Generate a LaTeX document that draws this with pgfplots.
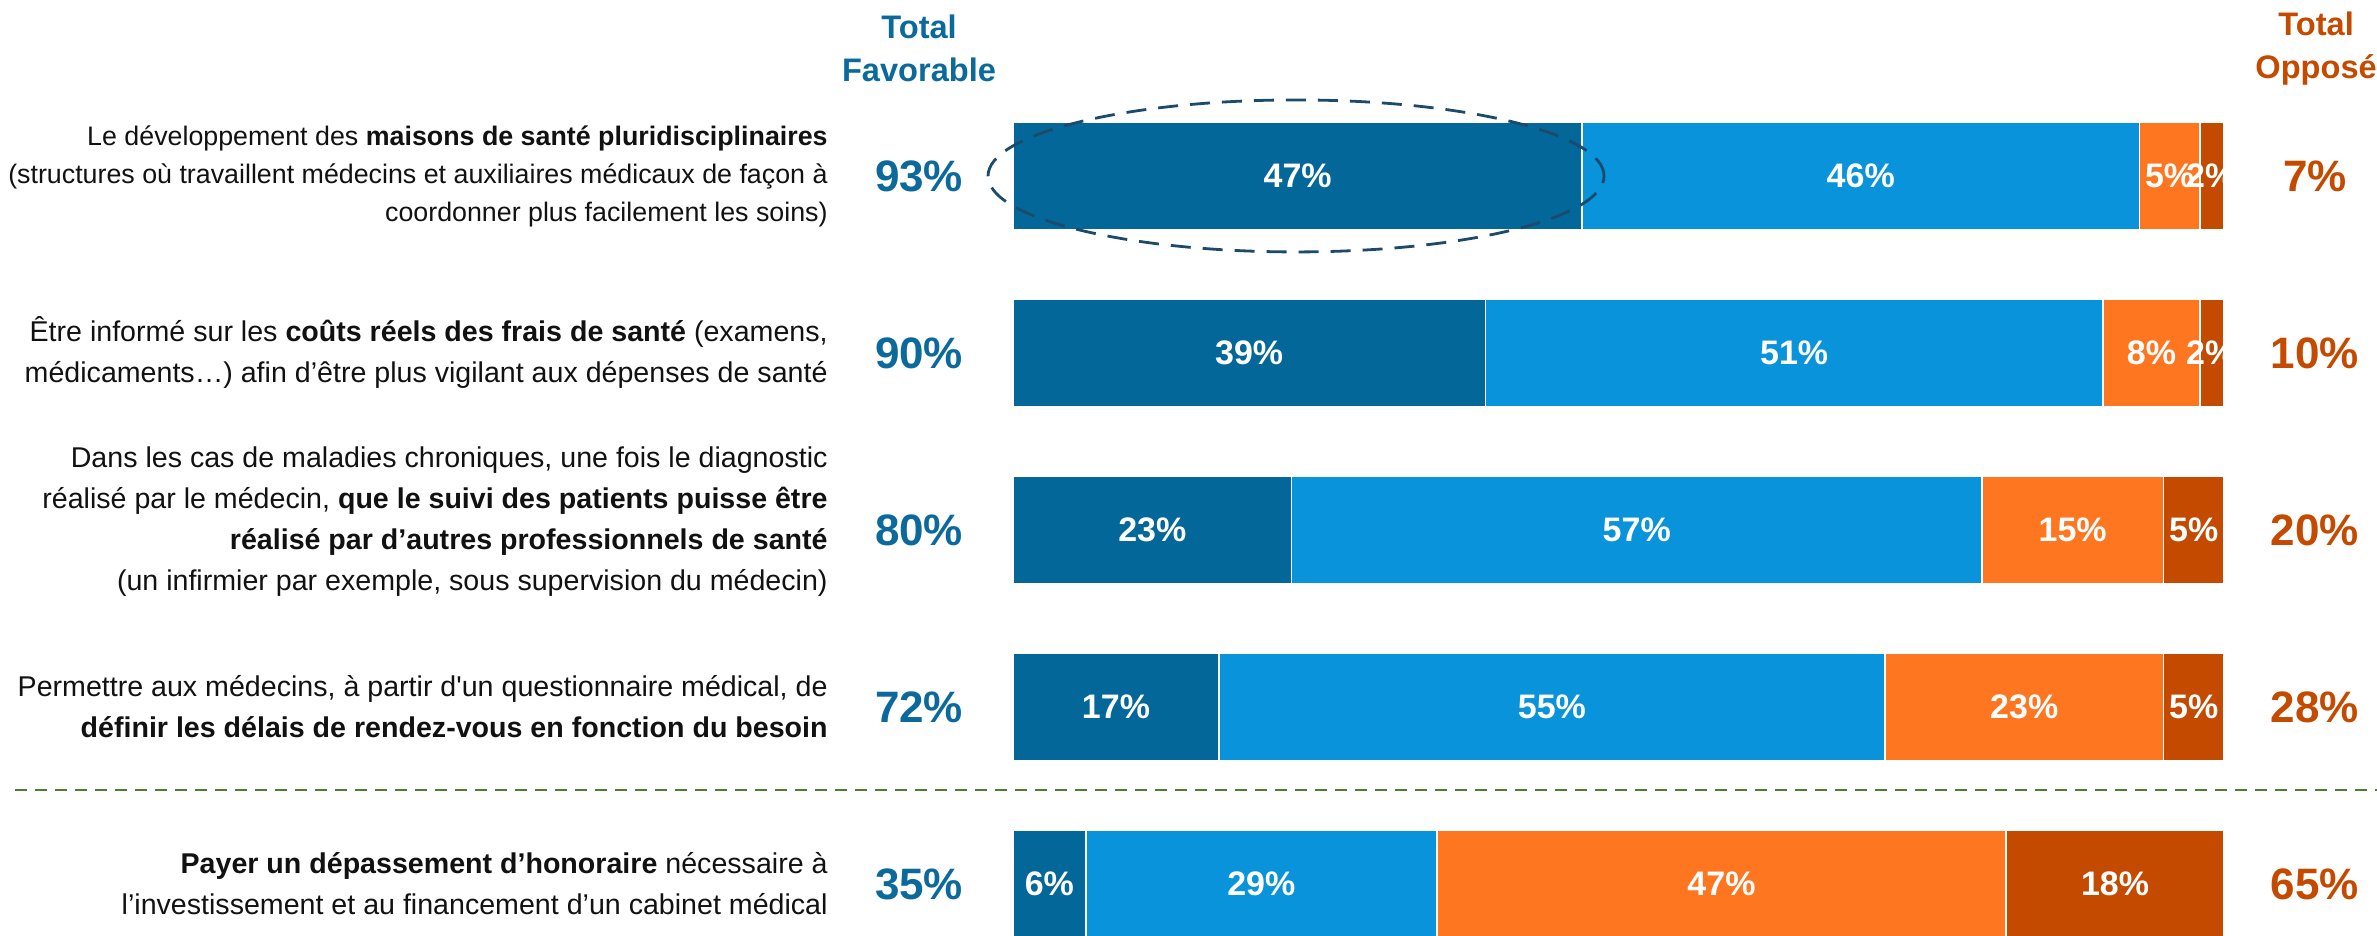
\documentclass[border=0pt]{standalone}
\usepackage{fontspec}
\setmainfont{Liberation Sans}
\usepackage{pgfplots}
\usepackage{pgfplotstable}
\pgfplotsset{compat=1.18}
\definecolor{cDB}{HTML}{03679A}
\definecolor{cLB}{HTML}{0893DB}
\definecolor{cOR}{HTML}{FF7621}
\definecolor{cDO}{HTML}{C44A00}
\definecolor{cFav}{HTML}{0B6A9B}
\definecolor{cOpp}{HTML}{C44A00}
\definecolor{cEll}{HTML}{1C4A6A}
\definecolor{cGrn}{HTML}{4E7D2F}
\definecolor{cTxt}{HTML}{111111}
\pgfplotstableread{
row a b c d
0 47 46 5 2
1 39 51 8 2
2 23 57 15 5
3 17 55 23 5
4 6 29 47 18
}\data
\begin{document}
\begin{tikzpicture}
\begin{axis}[name=ax, at={(0,0)}, anchor=south west,
  width=1188.5pt, height=468pt, scale only axis,
  xmin=-83.65, xmax=112.63, ymin=-0.994, ymax=4.294,
  y dir=reverse, hide axis, clip=false,
  xbar stacked, bar width=54pt]
\addplot[fill=cDB, draw=white, line width=0.8pt] table[x=a, y=row] {\data};
\addplot[fill=cLB, draw=white, line width=0.8pt] table[x=b, y=row] {\data};
\addplot[fill=cOR, draw=white, line width=0.8pt] table[x=c, y=row] {\data};
\addplot[fill=cDO, draw=white, line width=0.8pt] table[x=d, y=row] {\data};
% label anchor points (drawn after the axis so they sit on top of the bars)
\coordinate (L0a) at (axis cs:23.5,0);  \coordinate (L0b) at (axis cs:70,0);
\coordinate (L0c) at (axis cs:95.5,0);  \coordinate (L0d) at (axis cs:98.9,0);
\coordinate (L1a) at (axis cs:19.5,1);  \coordinate (L1b) at (axis cs:64.5,1);
\coordinate (L1c) at (axis cs:94,1);    \coordinate (L1d) at (axis cs:98.9,1);
\coordinate (L2a) at (axis cs:11.5,2);  \coordinate (L2b) at (axis cs:51.5,2);
\coordinate (L2c) at (axis cs:87.5,2);  \coordinate (L2d) at (axis cs:97.5,2);
\coordinate (L3a) at (axis cs:8.5,3);   \coordinate (L3b) at (axis cs:44.5,3);
\coordinate (L3c) at (axis cs:83.5,3);  \coordinate (L3d) at (axis cs:97.5,3);
\coordinate (L4a) at (axis cs:3,4);     \coordinate (L4b) at (axis cs:20.5,4);
\coordinate (L4c) at (axis cs:58.5,4);  \coordinate (L4d) at (axis cs:91,4);
\coordinate (E0) at (axis cs:23.37,0);
\draw[cGrn, line width=1pt, dash pattern=on 6pt off 4pt] (axis cs:-82.4,3.47) -- (axis cs:113,3.47);
\node[align=center, text=cFav, font=\fontsize{16.3}{21.5}\selectfont\bfseries] at (axis cs:-7.76,-0.72) {Total\\Favorable};
\node[align=center, text=cOpp, font=\fontsize{16.3}{21.5}\selectfont\bfseries] at (axis cs:107.6,-0.72) {Total\\Opposé};
\tikzset{tf/.style={text=cFav, font=\fontsize{22}{24}\selectfont\bfseries},
         to/.style={text=cOpp, font=\fontsize{22}{24}\selectfont\bfseries}}
\node[tf] at (axis cs:-7.76,0) {93\%};
\node[tf] at (axis cs:-7.76,1) {90\%};
\node[tf] at (axis cs:-7.76,2) {80\%};
\node[tf] at (axis cs:-7.76,3) {72\%};
\node[tf] at (axis cs:-7.76,4) {35\%};
\node[to] at (axis cs:107.5,0) {7\%};
\node[to] at (axis cs:107.5,1) {10\%};
\node[to] at (axis cs:107.5,2) {20\%};
\node[to] at (axis cs:107.5,3) {28\%};
\node[to] at (axis cs:107.5,4) {65\%};
\tikzset{lt/.style={anchor=east, align=right, text=cTxt, inner sep=0pt, font=\fontsize{14.3}{20.5}\selectfont}}
\node[lt, font=\fontsize{13.4}{19}\selectfont] at (axis cs:-15.28,0) {Le développement des \textbf{maisons de santé pluridisciplinaires}\\(structures où travaillent médecins et auxiliaires médicaux de façon à\\coordonner plus facilement les soins)};
\node[lt] at (axis cs:-15.28,1) {Être informé sur les \textbf{coûts réels des frais de santé} (examens,\\médicaments…) afin d’être plus vigilant aux dépenses de santé};
\node[lt] at (axis cs:-15.28,1.955) {Dans les cas de maladies chroniques, une fois le diagnostic\\réalisé par le médecin, \textbf{que le suivi des patients puisse être}\\\textbf{réalisé par d’autres professionnels de santé}\\(un infirmier par exemple, sous supervision du médecin)};
\node[lt] at (axis cs:-15.28,3) {Permettre aux médecins, à partir d\textquotesingle un questionnaire médical, de\\\textbf{définir les délais de rendez-vous en fonction du besoin}};
\node[lt] at (axis cs:-15.28,4) {\textbf{Payer un dépassement d’honoraire} nécessaire à\\l’investissement et au financement d’un cabinet médical};
\end{axis}
\tikzset{bl/.style={text=white, font=\fontsize{17}{20}\selectfont\bfseries, inner sep=0pt}}
\node[bl] at (L0a) {47\%}; \node[bl] at (L0b) {46\%}; \node[bl] at (L0c) {5\%}; \node[bl] at (L0d) {2\%};
\node[bl] at (L1a) {39\%}; \node[bl] at (L1b) {51\%}; \node[bl] at (L1c) {8\%}; \node[bl] at (L1d) {2\%};
\node[bl] at (L2a) {23\%}; \node[bl] at (L2b) {57\%}; \node[bl] at (L2c) {15\%}; \node[bl] at (L2d) {5\%};
\node[bl] at (L3a) {17\%}; \node[bl] at (L3b) {55\%}; \node[bl] at (L3c) {23\%}; \node[bl] at (L3d) {5\%};
\node[bl] at (L4a) {6\%};  \node[bl] at (L4b) {29\%}; \node[bl] at (L4c) {47\%}; \node[bl] at (L4d) {18\%};
\draw[cEll, line width=1.4pt, dash pattern=on 10pt off 6pt] (E0) ellipse [x radius=154pt, y radius=38pt];
\pgfresetboundingbox
\path[use as bounding box] (ax.south west) rectangle (ax.north east);
\end{tikzpicture}
\end{document}
